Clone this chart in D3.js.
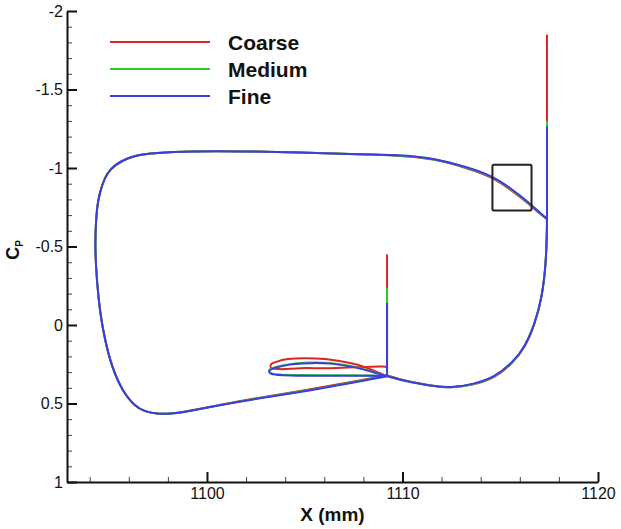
<!DOCTYPE html>
<html>
<head>
<meta charset="utf-8">
<title>Cp distribution</title>
<script src="https://cdn.jsdelivr.net/npm/d3@7"></script>
<style>
  body { margin: 0; background: #fff; }
  text { font-family: "Liberation Sans", Arial, Helvetica, sans-serif; }
</style>
</head>
<body>
<script>
// series names and colours
var seriesNames = ['Coarse', 'Medium', 'Fine'];
var seriesColors = ['#dc2424', '#2ccc2c', '#3c3ce4'];

// axis ticks
var yTicks = [-2, -1.5, -1, -0.5, 0, 0.5, 1];
var xTicks = [1100, 1110, 1120];

// main element surface, trailing edge -> upper -> leading edge -> lower -> cove -> aft lower -> trailing edge
// [X (mm), Cp]
var coarseMain = [
  [1117.39,-0.675],[1116.88,-0.724],[1116.37,-0.781],[1115.65,-0.851],[1114.63,-0.941],[1113.30,-1.000],
  [1111.56,-1.060],[1109.87,-1.081],[1107.31,-1.088],[1104.76,-1.099],[1102.20,-1.105],[1100.66,-1.108],
  [1098.11,-1.104],[1096.73,-1.089],[1095.91,-1.064],[1095.29,-1.019],[1094.88,-0.968],[1094.63,-0.892],
  [1094.42,-0.796],[1094.32,-0.669],[1094.27,-0.497],[1094.36,-0.287],[1094.53,-0.076],[1094.78,0.096],
  [1095.13,0.266],[1095.64,0.414],[1096.32,0.520],[1096.83,0.551],[1097.43,0.567],[1098.11,0.566],
  [1098.96,0.551],[1100.66,0.508],[1102.71,0.462],[1104.76,0.422],[1106.80,0.376],[1109.21,0.321],
  [1109.87,0.346],[1110.90,0.374],[1111.92,0.396],[1112.58,0.399],[1113.61,0.382],[1114.73,0.337],
  [1115.60,0.248],[1116.27,0.145],[1116.78,-0.009],[1117.14,-0.175],[1117.34,-0.393],[1117.39,-0.605],
  [1117.39,-0.675]
];
var mediumMain = [
  [1117.39,-0.675],[1116.88,-0.728],[1116.37,-0.786],[1115.65,-0.856],[1114.63,-0.945],[1113.30,-1.003],
  [1111.56,-1.062],[1109.87,-1.082],[1107.31,-1.089],[1104.76,-1.099],[1102.20,-1.105],[1100.66,-1.108],
  [1098.11,-1.104],[1096.73,-1.089],[1095.91,-1.064],[1095.29,-1.019],[1094.88,-0.968],[1094.63,-0.892],
  [1094.42,-0.796],[1094.32,-0.669],[1094.27,-0.497],[1094.36,-0.287],[1094.53,-0.076],[1094.78,0.096],
  [1095.13,0.266],[1095.64,0.414],[1096.32,0.520],[1096.83,0.551],[1097.43,0.567],[1098.11,0.566],
  [1098.96,0.552],[1100.66,0.509],[1102.71,0.464],[1104.76,0.425],[1106.80,0.380],[1109.21,0.324],
  [1109.87,0.348],[1110.90,0.375],[1111.92,0.395],[1112.58,0.398],[1113.61,0.380],[1114.73,0.334],
  [1115.60,0.245],[1116.27,0.142],[1116.78,-0.011],[1117.14,-0.177],[1117.34,-0.394],[1117.39,-0.605],
  [1117.39,-0.675]
];
var fineMain = [
  [1117.39,-0.675],[1116.88,-0.732],[1116.37,-0.790],[1115.65,-0.860],[1114.63,-0.949],[1113.30,-1.006],
  [1111.56,-1.064],[1109.87,-1.083],[1107.31,-1.089],[1104.76,-1.099],[1102.20,-1.105],[1100.66,-1.108],
  [1098.11,-1.104],[1096.73,-1.089],[1095.91,-1.064],[1095.29,-1.019],[1094.88,-0.968],[1094.63,-0.892],
  [1094.42,-0.796],[1094.32,-0.669],[1094.27,-0.497],[1094.36,-0.287],[1094.53,-0.076],[1094.78,0.096],
  [1095.13,0.266],[1095.64,0.414],[1096.32,0.520],[1096.83,0.551],[1097.43,0.567],[1098.11,0.566],
  [1098.96,0.552],[1100.66,0.510],[1102.71,0.466],[1104.76,0.428],[1106.80,0.383],[1109.21,0.326],
  [1109.87,0.350],[1110.90,0.376],[1111.92,0.395],[1112.58,0.397],[1113.61,0.378],[1114.73,0.331],
  [1115.60,0.242],[1116.27,0.140],[1116.78,-0.013],[1117.14,-0.178],[1117.34,-0.395],[1117.39,-0.605],
  [1117.39,-0.675]
];

// cove region loop
var coarseCove = [
  [1109.21,0.326],[1108.59,0.294],[1107.93,0.262],[1107.06,0.236],[1106.04,0.217],[1105.01,0.211],
  [1104.14,0.217],[1103.58,0.233],[1103.27,0.252],[1103.27,0.272],[1103.73,0.281],[1104.76,0.275],
  [1106.29,0.275],[1107.83,0.268],[1109.00,0.265],[1109.21,0.268]
];
var mediumCove = [
  [1109.21,0.326],[1108.59,0.302],[1107.93,0.278],[1107.21,0.258],[1106.29,0.242],[1105.37,0.239],
  [1104.50,0.245],[1103.84,0.258],[1103.38,0.274],[1103.17,0.290],[1103.27,0.306],[1103.73,0.315],
  [1104.76,0.319],[1106.29,0.320],[1107.83,0.321],[1109.21,0.324]
];
var fineCove = [
  [1109.21,0.326],[1108.59,0.304],[1107.93,0.281],[1107.21,0.262],[1106.29,0.246],[1105.37,0.243],
  [1104.50,0.249],[1103.84,0.262],[1103.38,0.278],[1103.17,0.294],[1103.27,0.310],[1103.73,0.319],
  [1104.76,0.323],[1106.29,0.323],[1107.83,0.323],[1109.21,0.326]
];

// sharp-edge spikes: x position, base Cp, tip Cp per series
var spikeX = [1109.21, 1117.39];
var spikeBase = [0.326, -0.675];
var coarseSpikeTop = [-0.45, -1.85];
var mediumSpikeTop = [-0.235, -1.30];
var fineSpikeTop = [-0.14, -1.265];

// annotation box [x0, x1, cp0, cp1]
var zoomBox = [1114.6, 1116.6, -1.02, -0.73];

var series = [
  { main: coarseMain, cove: coarseCove, tops: coarseSpikeTop },
  { main: mediumMain, cove: mediumCove, tops: mediumSpikeTop },
  { main: fineMain, cove: fineCove, tops: fineSpikeTop }
];

var width = 621, height = 529;
var m = { left: 67, right: 598, top: 11, bottom: 482 };

var svg = d3.select('body').append('svg')
  .attr('width', width)
  .attr('height', height);

var x = d3.scaleLinear().domain([1092.84, 1120]).range([m.left, m.right]);
var y = d3.scaleLinear().domain([-2, 1]).range([m.top, m.bottom]);

var smooth = d3.line()
  .x(function(d) { return x(d[0]); })
  .y(function(d) { return y(d[1]); })
  .curve(d3.curveBasis);

var loop = d3.line()
  .x(function(d) { return x(d[0]); })
  .y(function(d) { return y(d[1]); })
  .curve(d3.curveCatmullRom.alpha(0.5));

// curves: split the surface at the cove corner so the corner stays sharp
series.forEach(function(s, i) {
  var g = svg.append('g')
    .attr('fill', 'none')
    .attr('stroke', seriesColors[i])
    .attr('stroke-width', 2);
  var k = s.main.findIndex(function(d) { return d[0] === spikeX[0]; });
  g.append('path').attr('d', smooth(s.main.slice(0, k + 1)));
  g.append('path').attr('d', smooth(s.main.slice(k)));
  g.append('path').attr('d', loop(s.cove));
  spikeX.forEach(function(sx, j) {
    g.append('line')
      .attr('x1', x(sx)).attr('x2', x(sx))
      .attr('y1', y(spikeBase[j])).attr('y2', y(s.tops[j]));
  });
});

// box
svg.append('rect')
  .attr('x', x(zoomBox[0]))
  .attr('y', y(zoomBox[2]))
  .attr('width', x(zoomBox[1]) - x(zoomBox[0]))
  .attr('height', y(zoomBox[3]) - y(zoomBox[2]))
  .attr('rx', 1.5)
  .attr('fill', 'none')
  .attr('stroke', '#222')
  .attr('stroke-width', 2);

// axes
var fmt = function(d) { return String(d); };

svg.append('g')
  .attr('transform', 'translate(' + m.left + ',0)')
  .call(d3.axisLeft(y).tickValues(d3.range(-2, 1.001, 0.1)).tickSize(-5).tickFormat(''))
  .call(function(g) { g.select('.domain').remove(); g.selectAll('line').attr('stroke', '#444'); });

svg.append('g')
  .attr('transform', 'translate(0,' + m.bottom + ')')
  .call(d3.axisBottom(x).tickValues(d3.range(1094, 1120, 2)).tickSize(-5).tickFormat(''))
  .call(function(g) { g.select('.domain').remove(); g.selectAll('line').attr('stroke', '#444'); });

var yAxis = svg.append('g')
  .attr('transform', 'translate(' + m.left + ',0)')
  .call(d3.axisLeft(y).tickValues(yTicks).tickSize(-10).tickSizeOuter(0).tickPadding(4).tickFormat(fmt));

var xAxis = svg.append('g')
  .attr('transform', 'translate(0,' + m.bottom + ')')
  .call(d3.axisBottom(x).tickValues(xTicks).tickSize(-10).tickSizeOuter(0).tickPadding(6).tickFormat(fmt));

[yAxis, xAxis].forEach(function(g) {
  g.attr('font-size', 16).attr('font-family', '"Liberation Sans", Arial, sans-serif');
  g.select('.domain').attr('stroke', '#111').attr('stroke-width', 2);
  g.selectAll('.tick line').attr('stroke', '#111').attr('stroke-width', 2);
  g.selectAll('.tick text').attr('fill', '#111');
});

// axis titles
svg.append('text')
  .attr('x', (m.left + m.right) / 2)
  .attr('y', 521)
  .attr('text-anchor', 'middle')
  .attr('font-size', 19)
  .attr('font-weight', 'bold')
  .attr('fill', '#111')
  .text('X (mm)');

var yTitle = svg.append('text')
  .attr('transform', 'translate(19,250) rotate(-90)')
  .attr('text-anchor', 'middle')
  .attr('font-size', 18)
  .attr('font-weight', 'bold')
  .attr('fill', '#111');
yTitle.append('tspan').text('C');
yTitle.append('tspan').attr('font-size', 10).attr('dy', 4).text('P');

// legend
var legend = svg.append('g');
seriesNames.forEach(function(name, i) {
  var ly = 42 + i * 27;
  legend.append('line')
    .attr('x1', 110).attr('x2', 210)
    .attr('y1', ly).attr('y2', ly)
    .attr('stroke', seriesColors[i])
    .attr('stroke-width', 2);
  legend.append('text')
    .attr('x', 228).attr('y', ly + 7.5)
    .attr('font-size', 21)
    .attr('font-weight', 'bold')
    .attr('fill', '#111')
    .text(name);
});
</script>
</body>
</html>
